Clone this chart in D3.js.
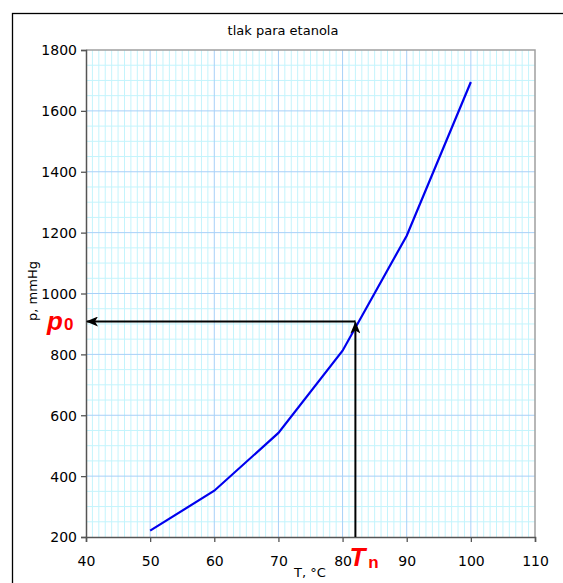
<!DOCTYPE html>
<html><head><meta charset="utf-8">
<script src="https://cdn.jsdelivr.net/npm/d3@7"></script>
<style>body{margin:0;background:#fff}svg{display:block}</style>
</head><body>
<script>
const temps = [50, 60, 70, 80, 90, 100];
const pressures = [221, 352, 542, 812, 1190, 1695];
const xTicks = [40, 50, 60, 70, 80, 90, 100, 110];
const yTicks = [200, 400, 600, 800, 1000, 1200, 1400, 1600, 1800];
const boilT = [82];
const boilP = [908];
const title = "tlak para etanola";
const xTitle = "T, °C";
const yTitle = "p, mmHg";

const W = 563, H = 583;
const svg = d3.select("body").append("svg").attr("width", W).attr("height", H);
svg.append("rect").attr("x", 12.5).attr("y", 13.5).attr("width", 600).attr("height", 600)
  .attr("fill", "#fff").attr("stroke", "#000").attr("stroke-width", 1.3);

const L = 86, R = 535, T = 50, B = 537;
const x = d3.scaleLinear().domain([40, 110]).range([L, R]);
const y = d3.scaleLinear().domain([200, 1800]).range([B, T]);

const g = svg.append("g");
g.selectAll(".mx").data(d3.range(41, 110).filter(v => v % 10 !== 0)).enter().append("line")
  .attr("x1", d => x(d)).attr("x2", d => x(d)).attr("y1", T).attr("y2", B)
  .attr("stroke", "#c4f4fc").attr("stroke-width", 1);
g.selectAll(".my").data(d3.range(250, 1800, 50).filter(v => v % 200 !== 0)).enter().append("line")
  .attr("x1", L).attr("x2", R).attr("y1", d => y(d)).attr("y2", d => y(d))
  .attr("stroke", "#c4f4fc").attr("stroke-width", 1);
g.selectAll(".Mx").data(xTicks.slice(1, -1)).enter().append("line")
  .attr("x1", d => x(d)).attr("x2", d => x(d)).attr("y1", T).attr("y2", B)
  .attr("stroke", "#a8d0f8").attr("stroke-width", 1);
g.selectAll(".My").data(yTicks.slice(1, -1)).enter().append("line")
  .attr("x1", L).attr("x2", R).attr("y1", d => y(d)).attr("y2", d => y(d))
  .attr("stroke", "#a8d0f8").attr("stroke-width", 1);
svg.append("path").attr("d", `M${L},${T}H${R}V${B}`).attr("fill", "none")
  .attr("stroke", "#a0a0a0").attr("stroke-width", 1.5);

const font = "'DejaVu Sans', Verdana, sans-serif";
const xa = svg.append("g").attr("transform", `translate(0,${B})`)
  .call(d3.axisBottom(x).tickValues(xTicks).tickSize(5).tickPadding(14).tickFormat(d3.format("d")));
const ya = svg.append("g").attr("transform", `translate(${L},0)`)
  .call(d3.axisLeft(y).tickValues(yTicks).tickSize(5).tickPadding(4).tickFormat(d3.format("d")));
[xa, ya].forEach(a => {
  a.select(".domain").attr("stroke", "#555").attr("stroke-width", 1.5);
  a.selectAll(".tick line").attr("stroke", "#555").attr("stroke-width", 1.3);
  a.selectAll("text").attr("font-family", font).attr("font-size", 14).attr("fill", "#000");
});
ya.selectAll("text").attr("dy", "0.35em");

svg.append("path").datum(temps.map((t, i) => [t, pressures[i]]))
  .attr("d", d3.line().x(d => x(d[0])).y(d => y(d[1])))
  .attr("fill", "none").attr("stroke", "#0000ee").attr("stroke-width", 2.2);

const defs = svg.append("defs");
defs.append("marker").attr("id", "ah").attr("viewBox", "0 0 12 10").attr("refX", 11).attr("refY", 5)
  .attr("markerWidth", 12).attr("markerHeight", 10).attr("markerUnits", "userSpaceOnUse")
  .attr("orient", "auto")
  .append("path").attr("d", "M0,0 L12,5 L0,10 L3,5 Z").attr("fill", "#000");
const tn = boilT[0], p0 = boilP[0];
svg.append("line").attr("x1", x(tn)).attr("x2", L + 1).attr("y1", y(p0)).attr("y2", y(p0))
  .attr("stroke", "#000").attr("stroke-width", 2).attr("marker-end", "url(#ah)");
svg.append("line").attr("x1", x(tn)).attr("x2", x(tn)).attr("y1", B).attr("y2", y(p0) + 1)
  .attr("stroke", "#000").attr("stroke-width", 2).attr("marker-end", "url(#ah)");
svg.append("line").attr("x1", x(tn) - 1).attr("x2", x(tn)).attr("y1", y(p0)).attr("y2", y(p0))
  .attr("stroke", "#000").attr("stroke-width", 2);

const pl = svg.append("text").attr("x", 47).attr("y", y(p0) + 8).attr("fill", "#ff0000")
  .attr("font-family", "'Liberation Sans', Arial, sans-serif").attr("font-weight", "bold");
pl.append("tspan").attr("font-style", "italic").attr("font-size", 26).text("p");
pl.append("tspan").attr("font-size", 17).attr("dx", 1).text("0");
const tl = svg.append("text").attr("x", x(tn) - 6).attr("y", 566).attr("fill", "#ff0000")
  .attr("font-family", "'Liberation Sans', Arial, sans-serif").attr("font-weight", "bold");
tl.append("tspan").attr("font-style", "italic").attr("font-size", 26).text("T");
tl.append("tspan").attr("font-size", 17).attr("dx", 3).attr("dy", 2).text("n");

svg.append("text").attr("x", 283).attr("y", 35).attr("text-anchor", "middle")
  .attr("font-family", "'Comic Sans MS', 'DejaVu Sans', sans-serif").attr("font-size", 13).text(title);
svg.append("text").attr("x", 310).attr("y", 577).attr("text-anchor", "middle")
  .attr("font-family", "'Comic Sans MS', 'DejaVu Sans', sans-serif").attr("font-size", 13).text(xTitle);
svg.append("text").attr("transform", `translate(37,291) rotate(-90)`).attr("text-anchor", "middle")
  .attr("font-family", font).attr("font-size", 13).text(yTitle);
</script>
</body></html>
